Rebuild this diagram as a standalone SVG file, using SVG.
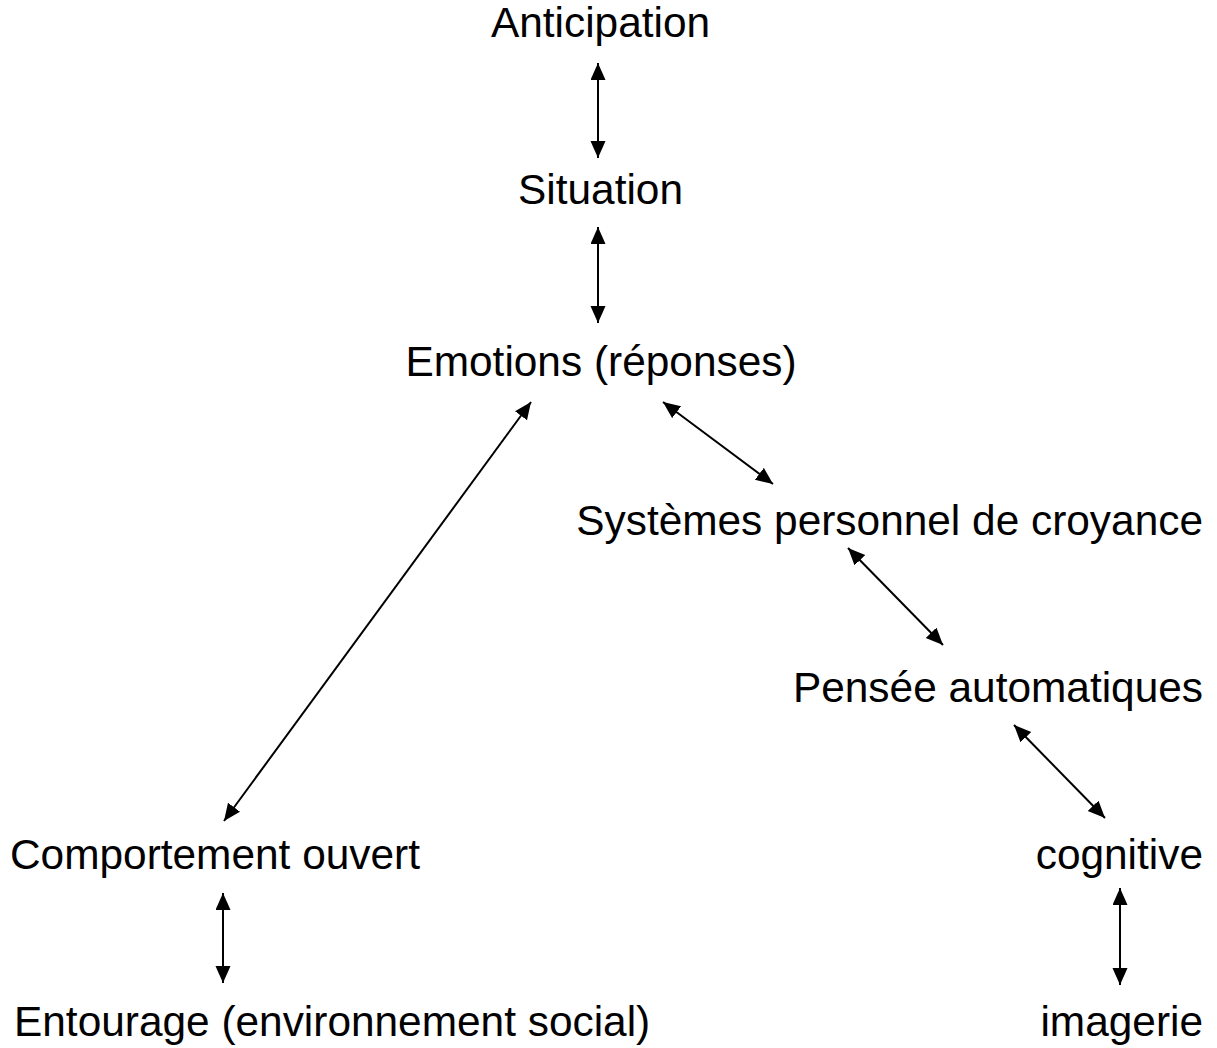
<svg xmlns="http://www.w3.org/2000/svg" width="1217" height="1048" viewBox="0 0 1217 1048">
<style>
text{font-family:"Liberation Sans",Arial,sans-serif;font-size:42.4px;fill:#000}
.c{text-anchor:middle}.r{text-anchor:end}
.e line{stroke:#000;stroke-width:2;marker-start:url(#ah);marker-end:url(#ah)}
</style>
<defs>
<marker id="ah" markerUnits="userSpaceOnUse" markerWidth="20" markerHeight="18" refX="17" refY="7.5" orient="auto-start-reverse">
<path d="M0,0 L17,7.5 L0,15 z" fill="#000"/>
</marker>
</defs>
<rect width="1217" height="1048" fill="#fff"/>
<g id="n-anticipation"><text class="c" x="600.5" y="37">Anticipation</text></g>
<g id="n-situation"><text class="c" x="600.5" y="204">Situation</text></g>
<g id="n-emotions"><text class="c" x="601" y="376">Emotions (réponses)</text></g>
<g id="n-systemes"><text class="r" x="1203" y="535">Systèmes personnel de croyance</text></g>
<g id="n-pensee"><text class="r" x="1203" y="702">Pensée automatiques</text></g>
<g id="n-cognitive"><text class="r" x="1203" y="869">cognitive</text></g>
<g id="n-imagerie"><text class="r" x="1203" y="1036">imagerie</text></g>
<g id="n-comportement"><text x="10" y="869">Comportement ouvert</text></g>
<g id="n-entourage"><text x="14" y="1036">Entourage (environnement social)</text></g>
<g id="edges" class="e">
<line x1="598" y1="63" x2="598" y2="158"/>
<line x1="598" y1="227" x2="598" y2="323"/>
<line x1="531" y1="402" x2="224" y2="821"/>
<line x1="663" y1="402" x2="773" y2="484"/>
<line x1="848" y1="548" x2="943" y2="645"/>
<line x1="1014" y1="725" x2="1105" y2="818"/>
<line x1="1120" y1="888" x2="1120" y2="985"/>
<line x1="223" y1="893" x2="223" y2="983"/>
</g>
</svg>
